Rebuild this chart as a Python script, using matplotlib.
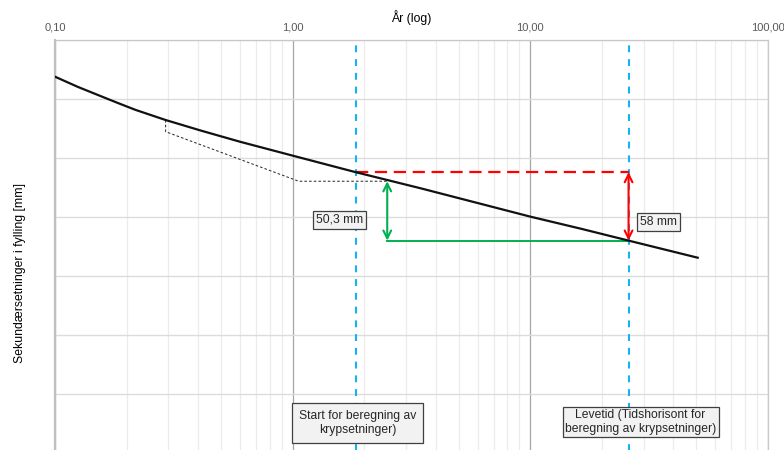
import numpy as np
import matplotlib.pyplot as plt
from matplotlib.ticker import FixedLocator, LogLocator, NullFormatter

plt.rcParams['font.family'] = ['Liberation Sans', 'DejaVu Sans']

# Sekundærsetning (mm) mot tid (år), lest langs kurven
aar = [0.1, 0.125, 0.155, 0.185, 0.218, 0.292, 0.41, 0.6, 1.0, 1.84, 3.46, 10.0, 16.3, 25.9, 50.6]
setning = [31.1, 39.8, 47.4, 53.6, 59.2, 67.8, 76.7, 86.2, 98.0, 112.0, 125.7, 149.7, 159.9, 170.0, 184.5]

# hjelpelinje (stiplet) for forskjøvet kurve
hjelp_aar = [0.292, 0.292, 1.06, 2.5]
hjelp_setning = [67.8, 77.7, 119.7, 119.7]

t_start = 1.84      # start for beregning av krypsetninger
t_slutt = 25.9      # levetid
t_pil = 2.5
s_start = 112.0
s_slutt = 170.0
krypsetning = 58.0  # s_slutt - s_start
krypsetning2 = 50.3
s_pil = s_slutt - krypsetning2

x_ticks = [0.1, 1.0, 10.0, 100.0]
x_ticklabels = ['0,10', '1,00', '10,00', '100,00']
y_grid = [0, 50, 100, 150, 200, 250, 300, 350]

fig = plt.figure(figsize=(7.84, 4.5), dpi=100)
ax = fig.add_axes([55/784, -3/450, 713/784, 413/450])

ax.set_xscale('log')
ax.set_xlim(0.1, 100)
ax.set_ylim(350, 0)

ax.xaxis.tick_top()
ax.xaxis.set_label_position('top')
ax.xaxis.set_major_locator(FixedLocator(x_ticks))
ax.set_xticklabels(x_ticklabels)
ax.xaxis.set_minor_locator(LogLocator(base=10, subs=np.arange(2, 10)))
ax.xaxis.set_minor_formatter(NullFormatter())
ax.tick_params(axis='x', which='both', length=0, pad=5.5, labelsize=8.0, labelcolor='#595959')
ax.set_yticks(y_grid)
ax.set_yticklabels([])
ax.tick_params(axis='y', length=0)

ax.grid(True, which='major', axis='x', color='#a6a6a6', lw=0.9)
ax.grid(True, which='minor', axis='x', color='#ececec', lw=0.9)
ax.grid(True, which='major', axis='y', color='#dcdcdc', lw=1.0)
ax.set_axisbelow(True)
for side in ['top', 'right', 'bottom']:
    ax.spines[side].set_color('#c8c8c8')
    ax.spines[side].set_linewidth(0.9)
ax.spines['left'].set_color('#c0c0c0')
ax.spines['left'].set_linewidth(1.6)

ax.set_xlabel('År (log)', fontsize=8.8, labelpad=0)
ax.set_ylabel('Sekundærsetninger i fylling [mm]', fontsize=8.8)
ax.yaxis.set_label_coords(-0.041, 0.435)

# vertikale tidslinjer
for t in [t_start, t_slutt]:
    ax.axvline(t, color='#14b4f0', lw=1.5, dashes=(3.3, 3.3), zorder=2)

# stiplet hjelpelinje
ax.plot(hjelp_aar, hjelp_setning, color='#303030', lw=0.75, dashes=(2.5, 2), zorder=3)

# rød stiplet linje og grønn linje
ax.plot([t_start, t_slutt], [s_start, s_start], color='#ff0000', lw=1.6, dashes=(5.5, 3), zorder=3)
ax.plot([t_pil, t_slutt], [s_slutt, s_slutt], color='#00b050', lw=1.4, zorder=3)

ax.plot(aar, setning, color='#111111', lw=1.6, zorder=4, solid_joinstyle='round')

# piler
ax.annotate('', xy=(t_slutt, s_start), xytext=(t_slutt, s_slutt),
            arrowprops=dict(arrowstyle='<->', color='#ff0000', lw=1.5,
                            shrinkA=0, shrinkB=0, mutation_scale=14), zorder=5)
ax.annotate('', xy=(t_pil, s_pil), xytext=(t_pil, s_slutt),
            arrowprops=dict(arrowstyle='<->', color='#00b050', lw=1.5,
                            shrinkA=0, shrinkB=0, mutation_scale=14), zorder=5)

boks = dict(boxstyle='square,pad=0.25', fc='#f2f2f2', ec='#404040', lw=0.9)
ax.text(1.577, 152.5, '{} mm'.format(str(krypsetning2).replace('.', ',')),
        fontsize=8.7, ha='center', va='center', color='#262626', bbox=boks, zorder=6)
ax.text(34.5, 154.2, '{:.0f} mm'.format(krypsetning),
        fontsize=8.7, ha='center', va='center', color='#262626', bbox=boks, zorder=6)

ax.text(1.877, 324.6, 'Start for beregning av\nkrypsetninger)', fontsize=8.7,
        ha='center', va='center', color='#262626', linespacing=1.2,
        bbox=dict(boxstyle='square,pad=0.55', fc='#f2f2f2', ec='#404040', lw=0.9), zorder=6)
ax.text(29.1, 323.7, 'Levetid (Tidshorisont for\nberegning av krypsetninger)', fontsize=8.7,
        ha='center', va='center', color='#262626', linespacing=1.15,
        bbox=dict(boxstyle='square,pad=0.2', fc='#f2f2f2', ec='#404040', lw=0.9), zorder=6)

fig.savefig('out.png', dpi=100)
